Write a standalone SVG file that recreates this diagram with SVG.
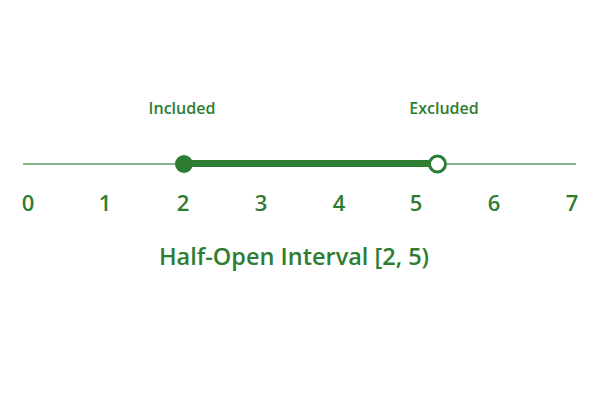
<svg xmlns="http://www.w3.org/2000/svg" width="600" height="400" viewBox="0 0 600 400">
<style>
.tick{font-family:"Open Sans","Noto Sans",sans-serif;font-size:22px;font-weight:600;fill:#2e7d32;text-anchor:middle}
.lbl{font-family:"Open Sans","Noto Sans",sans-serif;font-size:16px;font-weight:600;fill:#2e7d32;text-anchor:middle}
.title{font-family:"Open Sans","Noto Sans",sans-serif;font-size:23.5px;font-weight:600;fill:#2e7d32;text-anchor:middle}
</style>
<rect width="600" height="400" fill="#ffffff"/>
<g id="axis">
<line x1="23" y1="164" x2="576" y2="164" stroke="#2e7d32" stroke-opacity="0.75" stroke-width="1.5"/>
</g>
<g id="connectors">
<line x1="184" y1="163.5" x2="437" y2="163.5" stroke="#2e7d32" stroke-width="7"/>
</g>
<g id="start-point">
<circle cx="184" cy="164" r="9" fill="#2e7d32"/>
</g>
<g id="end-point">
<circle cx="437.5" cy="164" r="8" fill="#ffffff" stroke="#2e7d32" stroke-width="3"/>
</g>
<g id="ticks">
<text class="tick" x="28" y="210.5">0</text>
<text class="tick" x="105" y="210.5">1</text>
<text class="tick" x="183" y="210.5">2</text>
<text class="tick" x="261" y="210.5">3</text>
<text class="tick" x="339" y="210.5">4</text>
<text class="tick" x="416" y="210.5">5</text>
<text class="tick" x="494" y="210.5">6</text>
<text class="tick" x="572" y="210.5">7</text>
</g>
<g id="labels">
<text class="lbl" x="182" y="114">Included</text>
<text class="lbl" x="444" y="114">Excluded</text>
</g>
<g id="title">
<text class="title" x="294" y="265">Half-Open Interval [2, 5)</text>
</g>
</svg>
